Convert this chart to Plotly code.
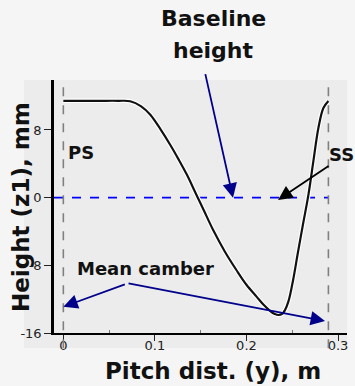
import plotly.graph_objects as go

# Profile height z1 (mm) vs pitch distance y (m)
pitch_y = [0.0, 0.02, 0.04, 0.06, 0.073, 0.085, 0.095, 0.106, 0.117, 0.126, 0.135,
           0.144, 0.153, 0.1635, 0.176, 0.189, 0.2, 0.211, 0.219, 0.226, 0.231,
           0.235, 0.239, 0.242, 0.246, 0.251, 0.256, 0.262, 0.2676, 0.273, 0.2785,
           0.284, 0.2895]
height_z1 = [11.45, 11.45, 11.45, 11.45, 11.4, 10.8, 9.8, 8.1, 6.2, 4.5, 2.7,
             0.65, -1.4, -3.8, -6.3, -8.55, -10.3, -11.7, -12.7, -13.4, -13.75,
             -13.87, -13.75, -13.3, -12.2, -9.7, -6.6, -3.0, 0.3, 4.25, 8.2,
             10.6, 11.43]

pitch_edges = [0.0, 0.2895]          # PS and SS pitch boundaries
baseline_height = [0.0, 0.0]

x_ticks = [0, 0.1, 0.2, 0.3]
x_tick_labels = ["0", "0.1", "0.2", "0.3"]
y_ticks = [-16, -8, 0, 8]
y_tick_labels = ["-16", "-8", "0", "8"]

FONT = "DejaVu Sans"
PANEL = "#ececec"
PAPER = "#f5f5f5"
NAVY = "#00008b"

fig = go.Figure()

# baseline height (blue dashed)
fig.add_trace(go.Scatter(x=[-0.0102, pitch_edges[1]], y=baseline_height, mode="lines",
                         line=dict(color="#0000ff", width=1.6, dash="dash"),
                         hoverinfo="skip", showlegend=False))
# halo + profile curve
fig.add_trace(go.Scatter(x=pitch_y, y=height_z1, mode="lines", line_shape="spline",
                         line=dict(color="#ffffff", width=4.5),
                         hoverinfo="skip", showlegend=False))
fig.add_trace(go.Scatter(x=pitch_y, y=height_z1, mode="lines", line_shape="spline",
                         line=dict(color="#111111", width=2.2),
                         showlegend=False))

shapes = [
    dict(type="rect", xref="paper", yref="paper", x0=-0.1024, x1=1.0, y0=-0.059, y1=1.0,
         fillcolor=PANEL, line=dict(width=0), layer="below"),
]
for xe in pitch_edges:
    shapes.append(dict(type="line", xref="x", yref="paper", x0=xe, x1=xe, y0=-0.06, y1=1.0,
                       line=dict(color="#808080", width=1.6, dash="dash"), layer="above"))


def label(text, x, y, size, xanchor="center", angle=0):
    return dict(text=text, xref="paper", yref="paper", x=x, y=y, xanchor=xanchor,
                yanchor="middle", textangle=angle, showarrow=False,
                font=dict(family=FONT, size=size, color="#111"))


def arrow(x, y, ax, ay, color):
    return dict(text="", x=x, y=y, xref="x", yref="y", ax=ax, ay=ay, showarrow=True,
                arrowhead=2, arrowsize=1.6, arrowwidth=1.8, arrowcolor=color)


annotations = [
    label("<b>Height (z1), mm</b>", -0.1126, 0.498, 23, angle=-90),
    label("<b>Pitch dist. (y), m</b>", 0.544, -0.150, 23),
    label("<b>Baseline</b>", 0.543, 1.245, 22),
    label("<b>height</b>", 0.543, 1.118, 22),
    label("<b>PS</b>", 0.041, 0.713, 18, xanchor="left"),
    label("<b>SS</b>", 0.933, 0.704, 18, xanchor="left"),
    label("<b>Mean camber</b>", 0.072, 0.253, 18, xanchor="left"),
    arrow(0.1853, 0.0, -28, -125, NAVY),
    arrow(0.2345, -0.27, 52, -35, "#000000"),
    arrow(0.0, -12.9, 63, -23, NAVY),
    arrow(0.2858, -14.58, -198, -38, NAVY),
]

fig.update_layout(
    width=355, height=386,
    margin=dict(l=54, r=8, t=80, b=53),
    paper_bgcolor=PAPER, plot_bgcolor=PANEL,
    font=dict(family=FONT, size=13, color="#222"),
    shapes=shapes, annotations=annotations,
    showlegend=False,
    xaxis=dict(range=[-0.0102, 0.3098], showgrid=False, zeroline=False,
               tickvals=x_ticks, ticktext=x_tick_labels, ticks="outside", ticklen=6,
               tickwidth=1.2, tickcolor="#222", showline=True, linecolor="#000",
               linewidth=2.2, ticklabelstandoff=-7,
               minor=dict(tickvals=[0.05, 0.15, 0.25], ticks="inside", ticklen=3,
                          tickcolor="#777", tickwidth=1)),
    yaxis=dict(range=[-16, 13.91], showgrid=False, zeroline=False,
               tickvals=y_ticks, ticktext=y_tick_labels, ticks="outside", ticklen=7,
               tickwidth=1.2, tickcolor="#222", showline=True, linecolor="#000",
               linewidth=2.5),
)

fig.write_html("out.html")
